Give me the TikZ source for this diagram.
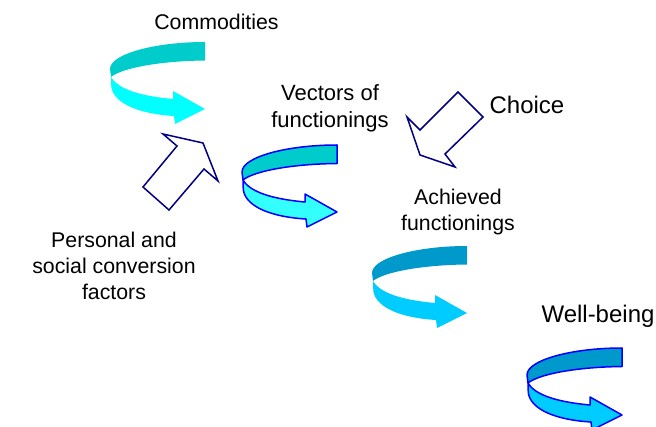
\documentclass[tikz,border=0pt]{standalone}
\usepackage{fontspec}
\setmainfont{Liberation Sans}
\definecolor{tealdark}{HTML}{00CCCC}
\definecolor{cyanlight}{HTML}{00FFFF}
\definecolor{cyanlight2}{HTML}{33FFFF}
\definecolor{bluedark}{HTML}{0099CC}
\definecolor{bluelight}{HTML}{00CCFF}
\definecolor{rimblue}{HTML}{0000FF}
\definecolor{navyline}{HTML}{000080}
\tikzset{
  lbl/.style={font=\fontsize{24}{26.5}\selectfont, align=center, inner sep=0pt},
  lblsmall/.style={font=\fontsize{21.3}{26}\selectfont, align=center, inner sep=0pt},
  lblmid/.style={font=\fontsize{22}{27}\selectfont, align=center, inner sep=0pt},
  hollow/.style={draw=navyline, line width=1.5pt, line join=miter, fill=white},
}
\newcommand\ribbonarrow[5]{%
  \begin{scope}[shift={(#1,#2)}]
    \path[fill=#3, draw=#5, line width=1.5pt, line join=round]
      (95,0) .. controls (45,0) and (0,12) .. (0,27) -- (1,35)
      .. controls (12,26) and (50,19) .. (95,18.5) -- cycle;
    \path[fill=#4, draw=#5, line width=1.5pt, line join=round]
      (1,35) .. controls (8,47) and (30,54) .. (63,57) -- (63,49) -- (95,67)
      -- (65,82) -- (64,74) .. controls (30,72) and (4,62) .. (1.3,45) -- cycle;
  \end{scope}}
\begin{document}
\begin{tikzpicture}[x=1pt,y=-1pt]
\useasboundingbox (0,0) rectangle (656,427);
% curved arrows
\ribbonarrow{110}{42}{tealdark}{cyanlight}{none}
\ribbonarrow{242}{145}{tealdark}{cyanlight2}{rimblue}
\ribbonarrow{372}{246}{bluedark}{bluelight}{none}
\ribbonarrow{527}{348}{bluedark}{bluelight}{rimblue}
% hollow arrows
\draw[hollow] (163,134) -- (203,143) -- (218,181) -- (204,169) -- (169,210) -- (143,187) -- (177,146) -- cycle;
\draw[hollow] (458,92) -- (483,117) -- (445,154) -- (455,167) -- (420,155) -- (407,117) -- (420,130) -- cycle;
% labels
\node[lblsmall] (commod) at (216.5,22) {Commodities};
\node[lblmid] (vectors) at (330,108.7) {Vectors of\\functionings};
\node[lbl] (choice) at (527,105) {Choice};
\node[lblsmall] (achieved) at (458,212.1) {Achieved\\functionings};
\node[lbl] (wellbeing) at (598,316.5) {Well-being};
\node[lblsmall] (personal) at (114,265.9) {Personal and\\social conversion\\factors};
\end{tikzpicture}
\end{document}
